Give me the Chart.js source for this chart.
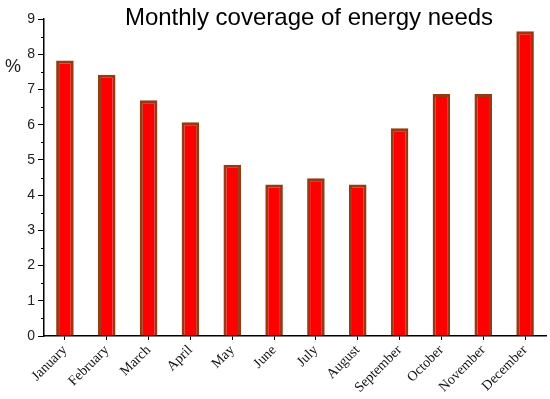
<!DOCTYPE html>
<html>
<head>
<meta charset="utf-8">
<script src="https://cdn.jsdelivr.net/npm/chart.js@4"></script>
<style>
  html, body { margin: 0; padding: 0; background: #fff; }
  #wrap { width: 550px; height: 399px; }
</style>
</head>
<body>
<div id="wrap"><canvas id="chart" width="550" height="399"></canvas></div>
<script>
// chart data
const months = ['January', 'February', 'March', 'April', 'May', 'June',
  'July', 'August', 'September', 'October', 'November', 'December'];
const coverage = [7.82, 7.42, 6.69, 6.07, 4.86, 4.3, 4.48, 4.3, 5.9, 6.87, 6.87, 8.65];
const yTicks = [0, 1, 2, 3, 4, 5, 6, 7, 8, 9];
const titleText = 'Monthly coverage of energy needs';
const unitLabel = '%';

// title, unit label and minor ticks on the y axis
const extras = {
  id: 'extras',
  afterDraw(chart) {
    const ctx = chart.ctx;
    const y = chart.scales.y;
    ctx.save();
    ctx.strokeStyle = '#000';
    ctx.lineWidth = 1;
    for (let v = 0.5; v < 9; v += 1) {
      const py = Math.round(y.getPixelForValue(v)) + 0.5;
      ctx.beginPath();
      ctx.moveTo(y.right - 3, py);
      ctx.lineTo(y.right, py);
      ctx.stroke();
    }
    ctx.fillStyle = '#000';
    ctx.font = '24px Arial, "Liberation Sans", sans-serif';
    ctx.textAlign = 'center';
    ctx.textBaseline = 'middle';
    ctx.fillText(titleText, 309, 18);
    ctx.fillStyle = '#222';
    ctx.font = '18px Arial, "Liberation Sans", sans-serif';
    ctx.fillText(unitLabel, 13, 67);
    ctx.restore();
  }
};

const ctx = document.getElementById('chart').getContext('2d');
new Chart(ctx, {
  type: 'bar',
  data: {
    labels: months,
    datasets: [{
      data: coverage,
      backgroundColor: '#ff0000',
      borderColor: '#963a14',
      borderWidth: { top: 3, left: 3, right: 3, bottom: 0 },
      borderSkipped: 'bottom',
      barPercentage: 0.42,
      categoryPercentage: 1.0
    }]
  },
  options: {
    responsive: false,
    animation: false,
    layout: { padding: { top: 19, right: 4, left: 0, bottom: 0 } },
    plugins: {
      legend: { display: false },
      title: { display: false },
      tooltip: { enabled: false }
    },
    scales: {
      x: {
        grid: { display: true, drawOnChartArea: false, color: '#000', tickLength: 4, offset: false },
        border: { display: true, color: '#000', width: 1.5 },
        ticks: {
          color: '#111',
          font: { family: '"Liberation Serif", "Times New Roman", serif', size: 14 },
          minRotation: 45, maxRotation: 45, padding: 2
        },
        afterFit(scale) { scale.height = 63; }
      },
      y: {
        min: 0, max: 9,
        afterBuildTicks(scale) { scale.ticks = yTicks.map(v => ({ value: v })); },
        grid: { display: true, drawOnChartArea: false, color: '#000', tickLength: 6 },
        border: { display: true, color: '#000', width: 1.5 },
        ticks: {
          color: '#222',
          font: { family: 'Arial, "Liberation Sans", sans-serif', size: 14 },
          padding: 3
        },
        afterFit(scale) { scale.width = 44; }
      }
    }
  },
  plugins: [extras]
});
</script>
</body>
</html>
